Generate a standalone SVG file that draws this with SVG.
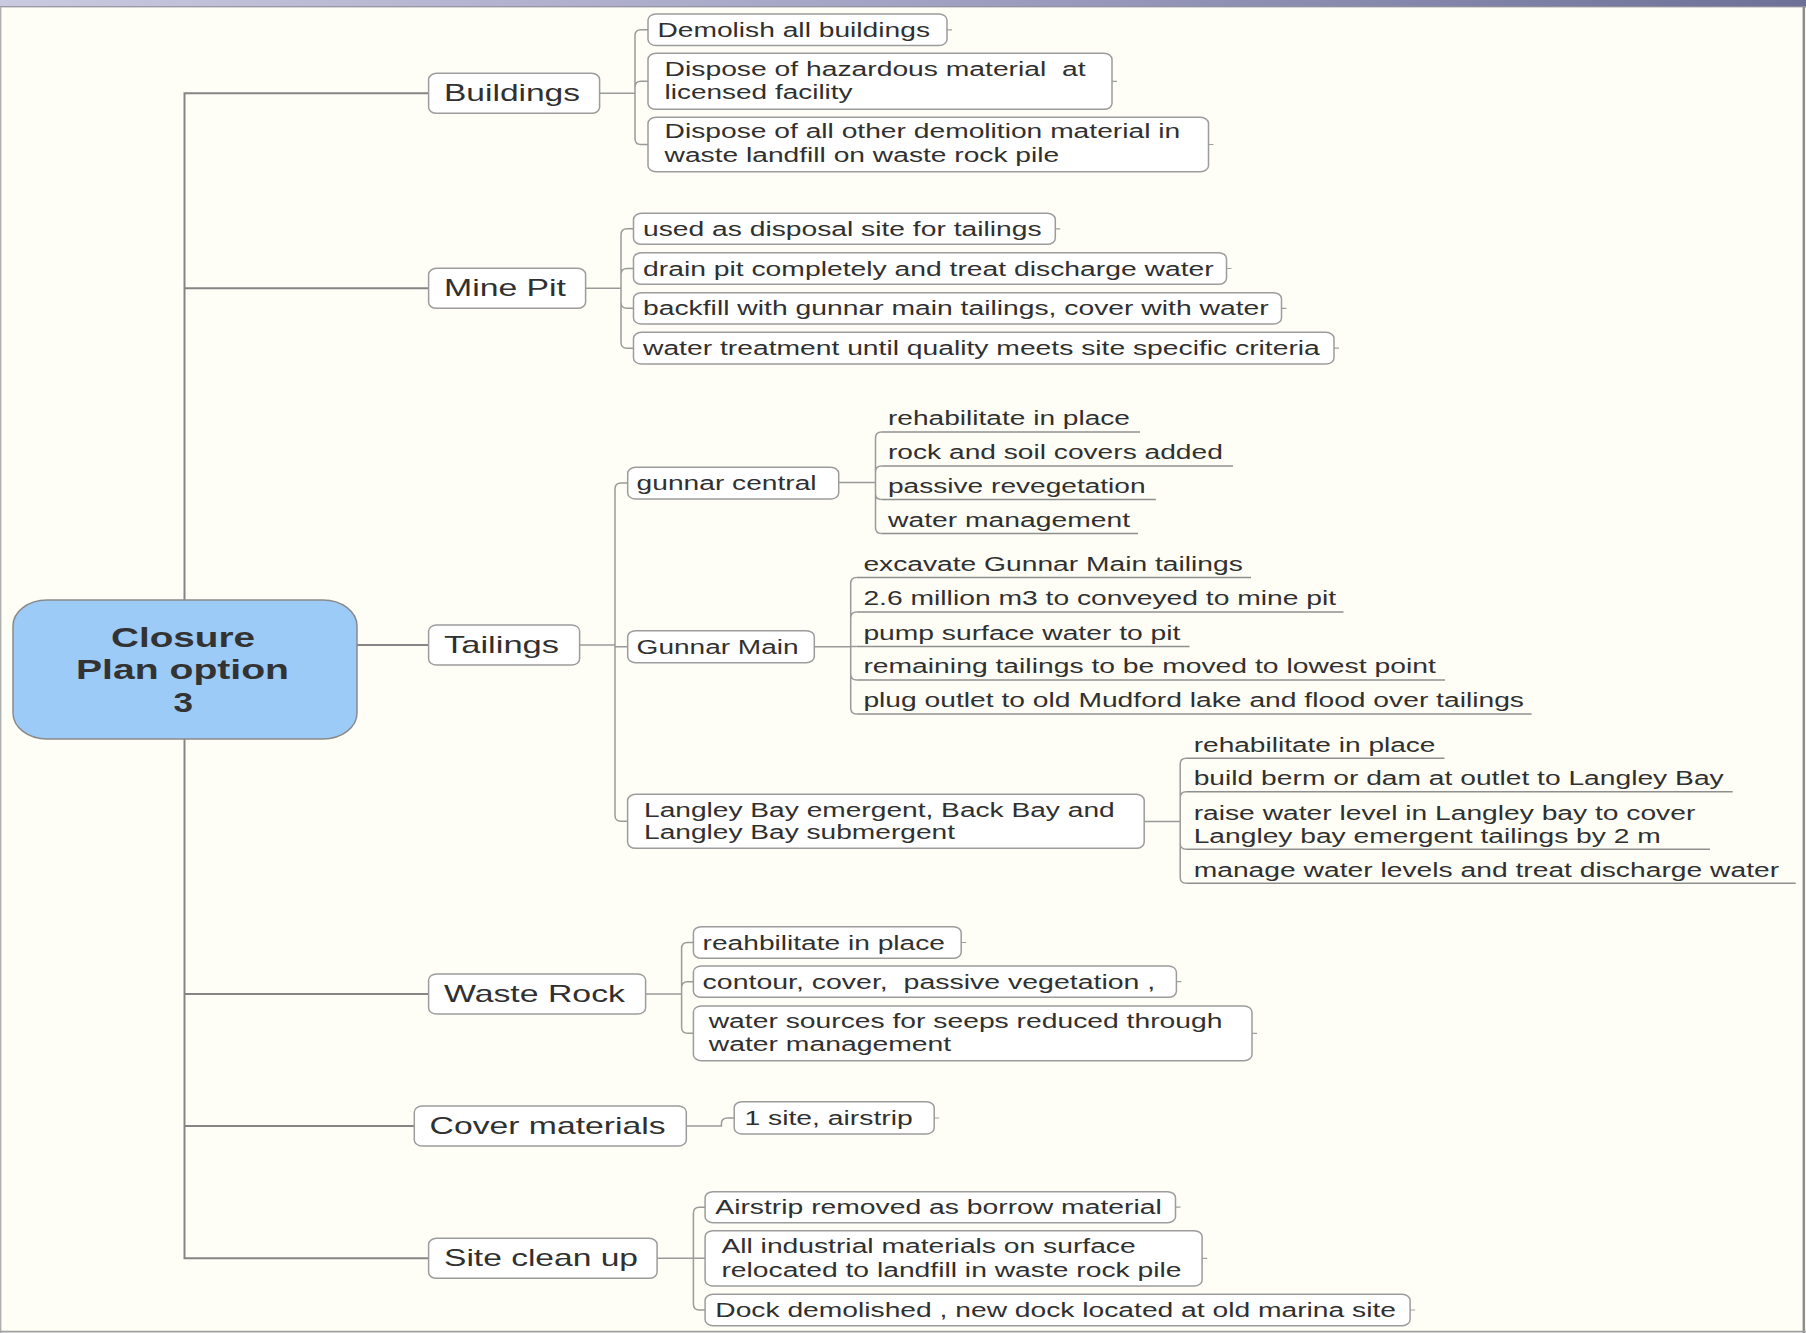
<svg xmlns="http://www.w3.org/2000/svg" width="1806" height="1333" viewBox="0 0 1806 1333">
<defs>
<linearGradient id="topbar" x1="0" y1="0" x2="1" y2="0">
<stop offset="0" stop-color="#c9c9df"/>
<stop offset="0.5" stop-color="#a2a2c4"/>
<stop offset="1" stop-color="#6d7197"/>
</linearGradient>
<style>
.bx{fill:#ffffff;stroke:#9c9c9c;stroke-width:1.5}
.root{fill:#9dcbf8;stroke:#8a8a8a;stroke-width:1.5}
.t{font-family:"Liberation Sans",Arial,sans-serif;font-size:20px;fill:#303030}
.t1{font-size:24px}
.rt{font-size:28px;font-weight:bold;fill:#333333}
.c{fill:none;stroke:#9a9a9a;stroke-width:1.5}
.c1{fill:none;stroke:#858585;stroke-width:2}
.ul{stroke:#8f8f8f;stroke-width:1.5}
.stub{stroke:#a0a0a0;stroke-width:1.2}
</style>
</defs>
<rect x="0" y="0" width="1806" height="1333" fill="#fefef6"/>
<rect x="0" y="0" width="1806" height="6.5" fill="url(#topbar)"/>
<line x1="0" y1="6.8" x2="1806" y2="6.8" stroke="#7a7a8a" stroke-width="1"/>
<line x1="0.7" y1="7" x2="0.7" y2="1333" stroke="#b0b0b0" stroke-width="1.4"/>
<line x1="1803.8" y1="7" x2="1803.8" y2="1333" stroke="#8c8c8c" stroke-width="2.4"/>
<line x1="0" y1="1331.6" x2="1806" y2="1331.6" stroke="#a0a0a0" stroke-width="1.6"/>

<g id="connectors">
<path class="c1" d="M428.6,93.3 H184.5 V1258.3 H428.6 M184.5,288.3 H428.6 M184.5,994 H428.6 M184.5,1126 H414.3 M357,645 H428.6"/>
<!-- Buildings -->
<path class="c" d="M599.6,93.3 H635 M635,93.3 V35.8 Q635,29.8 641,29.8 H648 M635,93.3 V87.3 Q635,81.3 641,81.3 H648 M635,93.3 V138.5 Q635,144.5 641,144.5 H648"/>
<!-- Mine Pit -->
<path class="c" d="M585.7,288.3 H621 M621,288.3 V234.8 Q621,228.8 627,228.8 H633.5 M621,288.3 V274.5 Q621,268.5 627,268.5 H633.5 M621,288.3 V302.3 Q621,308.3 627,308.3 H633.5 M621,288.3 V342.2 Q621,348.2 627,348.2 H633.5"/>
<!-- Tailings -->
<path class="c" d="M579.4,645 H615 M615,645 V489 Q615,483 621,483 H627.7 M615,645 V646.7 H627.7 M615,645 V815.3 Q615,821.3 621,821.3 H627.6"/>
<!-- gunnar central -->
<path class="c" d="M838.8,482.5 H875.5 M875.5,482.5 V438 Q875.5,432 881.5,432 M875.5,482.5 V472 Q875.5,466 881.5,466 M875.5,482.5 V493.5 Q875.5,499.5 881.5,499.5 M875.5,482.5 V527.5 Q875.5,533.5 881.5,533.5"/>
<!-- Gunnar Main -->
<path class="c" d="M814.3,646.7 H850.7 M850.7,646.7 V583.5 Q850.7,577.5 856.7,577.5 M850.7,646.7 V618 Q850.7,612 856.7,612 M850.7,646.7 V646.5 H856.7 M850.7,646.7 V674 Q850.7,680 856.7,680 M850.7,646.7 V708 Q850.7,714 856.7,714"/>
<!-- Langley -->
<path class="c" d="M1144.2,821.5 H1180.2 M1180.2,821.5 V764.3 Q1180.2,758.3 1186.2,758.3 M1180.2,821.5 V797.7 Q1180.2,791.7 1186.2,791.7 M1180.2,821.5 V843.3 Q1180.2,849.3 1186.2,849.3 M1180.2,821.5 V877.3 Q1180.2,883.3 1186.2,883.3"/>
<!-- Waste Rock -->
<path class="c" d="M645.4,994 H681.6 M681.6,994 V948.5 Q681.6,942.5 687.6,942.5 H693.4 M681.6,994 V987.7 Q681.6,981.7 687.6,981.7 H693.4 M681.6,994 V1027.3 Q681.6,1033.3 687.6,1033.3 H693.4"/>
<!-- Cover materials -->
<path class="c" d="M686.2,1126 H721.4 V1124 Q721.4,1118 727.4,1118 H734.2"/>
<!-- Site clean up -->
<path class="c" d="M657.1,1258.3 H693.4 M693.4,1258.3 V1213.2 Q693.4,1207.2 699.4,1207.2 H705.1 M693.4,1258.3 H705.1 M693.4,1258.3 V1304 Q693.4,1310 699.4,1310 H705.1"/>
<!-- collapse stubs -->
<path class="stub" d="M947,29.8 h5 M1112,81.3 h5 M1208.5,144.5 h5 M1055.3,228.8 h5 M1226.5,268.5 h5 M1281.5,308.3 h5 M1334,348.2 h5 M961.2,942.5 h5 M1176.4,981.7 h5 M1252,1033.3 h5 M934.2,1118 h5 M1175.5,1207.2 h5 M1202.1,1258.3 h5 M1410.1,1310 h5"/>
</g>

<g id="root">
<rect class="root" x="13" y="600" width="344" height="139" rx="34" ry="26"/>
<text class="t rt" x="111" y="647" textLength="144" lengthAdjust="spacingAndGlyphs">Closure</text>
<text class="t rt" x="76" y="679" textLength="213" lengthAdjust="spacingAndGlyphs">Plan option</text>
<text class="t rt" x="173.5" y="711.5" textLength="19.5" lengthAdjust="spacingAndGlyphs">3</text>
</g>

<g id="buildings">
<rect class="bx" x="428.6" y="73.3" width="171" height="40" rx="8" ry="6"/>
<text class="t t1" x="444" y="101.3" textLength="136" lengthAdjust="spacingAndGlyphs">Buildings</text>
</g>
<g id="demolish">
<rect class="bx" x="648" y="14" width="299" height="31.5" rx="8" ry="6"/>
<text class="t" x="657.4" y="36.8" textLength="272.6" lengthAdjust="spacingAndGlyphs">Demolish all buildings</text>
</g>
<g id="hazardous">
<rect class="bx" x="648" y="53.3" width="464" height="56" rx="8" ry="6"/>
<text class="t" x="664.6" y="76" textLength="421" lengthAdjust="spacingAndGlyphs" xml:space="preserve">Dispose of hazardous material  at</text>
<text class="t" x="664.6" y="99.3" textLength="188" lengthAdjust="spacingAndGlyphs">licensed facility</text>
</g>
<g id="other-demolition">
<rect class="bx" x="648" y="117.3" width="560.5" height="54.4" rx="8" ry="6"/>
<text class="t" x="664.6" y="138.3" textLength="515.6" lengthAdjust="spacingAndGlyphs">Dispose of all other demolition material in</text>
<text class="t" x="664.6" y="161.7" textLength="394.6" lengthAdjust="spacingAndGlyphs">waste landfill on waste rock pile</text>
</g>

<g id="mine-pit">
<rect class="bx" x="428.6" y="268.3" width="157" height="40" rx="8" ry="6"/>
<text class="t t1" x="444" y="296.3" textLength="122" lengthAdjust="spacingAndGlyphs">Mine Pit</text>
</g>
<g id="disposal-site">
<rect class="bx" x="633.5" y="213.3" width="421.8" height="31" rx="8" ry="6"/>
<text class="t" x="643" y="235.8" textLength="398.5" lengthAdjust="spacingAndGlyphs">used as disposal site for tailings</text>
</g>
<g id="drain-pit">
<rect class="bx" x="633.5" y="252.7" width="593" height="31.6" rx="8" ry="6"/>
<text class="t" x="643" y="275.5" textLength="570.7" lengthAdjust="spacingAndGlyphs">drain pit completely and treat discharge water</text>
</g>
<g id="backfill">
<rect class="bx" x="633.5" y="292.7" width="648" height="31.3" rx="8" ry="6"/>
<text class="t" x="643" y="315.3" textLength="625.7" lengthAdjust="spacingAndGlyphs">backfill with gunnar main tailings, cover with water</text>
</g>
<g id="water-treatment">
<rect class="bx" x="633.5" y="332.3" width="700.5" height="31.7" rx="8" ry="6"/>
<text class="t" x="643" y="355.1" textLength="676.8" lengthAdjust="spacingAndGlyphs">water treatment until quality meets site specific criteria</text>
</g>

<g id="tailings">
<rect class="bx" x="428.6" y="625" width="151" height="40" rx="8" ry="6"/>
<text class="t t1" x="444" y="653" textLength="115" lengthAdjust="spacingAndGlyphs">Tailings</text>
</g>
<g id="gunnar-central">
<rect class="bx" x="627.7" y="467.3" width="211" height="31.7" rx="8" ry="6"/>
<text class="t" x="636.6" y="490" textLength="180" lengthAdjust="spacingAndGlyphs">gunnar central</text>
</g>
<g id="gc-rehab">
<text class="t" x="888" y="425" textLength="242" lengthAdjust="spacingAndGlyphs">rehabilitate in place</text>
<line class="ul" x1="881.5" y1="432" x2="1140" y2="432"/>
</g>
<g id="gc-rock-soil">
<text class="t" x="888" y="459" textLength="334.8" lengthAdjust="spacingAndGlyphs">rock and soil covers added</text>
<line class="ul" x1="881.5" y1="466" x2="1233" y2="466"/>
</g>
<g id="gc-revegetation">
<text class="t" x="888" y="492.5" textLength="257.6" lengthAdjust="spacingAndGlyphs">passive revegetation</text>
<line class="ul" x1="881.5" y1="499.5" x2="1155.8" y2="499.5"/>
</g>
<g id="gc-water">
<text class="t" x="888" y="526.5" textLength="242" lengthAdjust="spacingAndGlyphs">water management</text>
<line class="ul" x1="881.5" y1="533.5" x2="1138" y2="533.5"/>
</g>

<g id="gunnar-main">
<rect class="bx" x="627.7" y="630.7" width="186.6" height="32" rx="8" ry="6"/>
<text class="t" x="636.6" y="653.7" textLength="162" lengthAdjust="spacingAndGlyphs">Gunnar Main</text>
</g>
<g id="gm-excavate">
<text class="t" x="863.4" y="570.5" textLength="379.4" lengthAdjust="spacingAndGlyphs">excavate Gunnar Main tailings</text>
<line class="ul" x1="856.7" y1="577.5" x2="1251" y2="577.5"/>
</g>
<g id="gm-convey">
<text class="t" x="863.4" y="605" textLength="472.8" lengthAdjust="spacingAndGlyphs">2.6 million m3 to conveyed to mine pit</text>
<line class="ul" x1="856.7" y1="612" x2="1343.5" y2="612"/>
</g>
<g id="gm-pump">
<text class="t" x="863.4" y="639.5" textLength="317" lengthAdjust="spacingAndGlyphs">pump surface water to pit</text>
<line class="ul" x1="856.7" y1="646.5" x2="1189.5" y2="646.5"/>
</g>
<g id="gm-remaining">
<text class="t" x="863.4" y="673" textLength="572.4" lengthAdjust="spacingAndGlyphs">remaining tailings to be moved to lowest point</text>
<line class="ul" x1="856.7" y1="680" x2="1445" y2="680"/>
</g>
<g id="gm-plug">
<text class="t" x="863.4" y="707" textLength="660.6" lengthAdjust="spacingAndGlyphs">plug outlet to old Mudford lake and flood over tailings</text>
<line class="ul" x1="856.7" y1="714" x2="1531.6" y2="714"/>
</g>

<g id="langley">
<rect class="bx" x="627.6" y="794.3" width="516.6" height="54" rx="8" ry="6"/>
<text class="t" x="644" y="816.7" textLength="470.7" lengthAdjust="spacingAndGlyphs">Langley Bay emergent, Back Bay and</text>
<text class="t" x="644" y="839.3" textLength="311" lengthAdjust="spacingAndGlyphs">Langley Bay submergent</text>
</g>
<g id="lb-rehab">
<text class="t" x="1193.7" y="751.5" textLength="241.8" lengthAdjust="spacingAndGlyphs">rehabilitate in place</text>
<line class="ul" x1="1186.2" y1="758.3" x2="1444.5" y2="758.3"/>
</g>
<g id="lb-berm">
<text class="t" x="1193.7" y="785" textLength="530" lengthAdjust="spacingAndGlyphs">build berm or dam at outlet to Langley Bay</text>
<line class="ul" x1="1186.2" y1="791.7" x2="1732.7" y2="791.7"/>
</g>
<g id="lb-raise">
<text class="t" x="1193.7" y="820" textLength="501.6" lengthAdjust="spacingAndGlyphs">raise water level in Langley bay to cover</text>
<text class="t" x="1193.7" y="843.3" textLength="467" lengthAdjust="spacingAndGlyphs">Langley bay emergent tailings by 2 m</text>
<line class="ul" x1="1186.2" y1="849.3" x2="1710" y2="849.3"/>
</g>
<g id="lb-manage">
<text class="t" x="1193.7" y="876.5" textLength="585.4" lengthAdjust="spacingAndGlyphs">manage water levels and treat discharge water</text>
<line class="ul" x1="1186.2" y1="883.3" x2="1795.7" y2="883.3"/>
</g>

<g id="waste-rock">
<rect class="bx" x="428.6" y="974" width="217" height="40" rx="8" ry="6"/>
<text class="t t1" x="444" y="1002" textLength="181" lengthAdjust="spacingAndGlyphs">Waste Rock</text>
</g>
<g id="wr-rehab">
<rect class="bx" x="693.4" y="926.7" width="267.8" height="31.6" rx="8" ry="6"/>
<text class="t" x="702.6" y="949.5" textLength="242.4" lengthAdjust="spacingAndGlyphs">reahbilitate in place</text>
</g>
<g id="wr-contour">
<rect class="bx" x="693.4" y="966" width="483" height="31.3" rx="8" ry="6"/>
<text class="t" x="702.6" y="988.7" textLength="452.6" lengthAdjust="spacingAndGlyphs" xml:space="preserve">contour, cover,  passive vegetation ,</text>
</g>
<g id="wr-water">
<rect class="bx" x="693.4" y="1006" width="558.6" height="54.7" rx="8" ry="6"/>
<text class="t" x="708.7" y="1027.5" textLength="513.8" lengthAdjust="spacingAndGlyphs">water sources for seeps reduced through</text>
<text class="t" x="708.7" y="1051" textLength="242.4" lengthAdjust="spacingAndGlyphs">water management</text>
</g>

<g id="cover-materials">
<rect class="bx" x="414.3" y="1106" width="272" height="40" rx="8" ry="6"/>
<text class="t t1" x="429.6" y="1134" textLength="236" lengthAdjust="spacingAndGlyphs">Cover materials</text>
</g>
<g id="cm-site">
<rect class="bx" x="734.2" y="1101.7" width="200" height="32.3" rx="8" ry="6"/>
<text class="t" x="744.4" y="1125" textLength="168.4" lengthAdjust="spacingAndGlyphs">1 site, airstrip</text>
</g>

<g id="site-clean-up">
<rect class="bx" x="428.6" y="1238.3" width="228.5" height="40" rx="8" ry="6"/>
<text class="t t1" x="444" y="1266.3" textLength="194" lengthAdjust="spacingAndGlyphs">Site clean up</text>
</g>
<g id="sc-airstrip">
<rect class="bx" x="705.1" y="1191.7" width="470.4" height="31" rx="8" ry="6"/>
<text class="t" x="715.3" y="1214.2" textLength="446.4" lengthAdjust="spacingAndGlyphs">Airstrip removed as borrow material</text>
</g>
<g id="sc-industrial">
<rect class="bx" x="705.1" y="1230.7" width="497" height="55.3" rx="8" ry="6"/>
<text class="t" x="721.4" y="1252.7" textLength="414.3" lengthAdjust="spacingAndGlyphs">All industrial materials on surface</text>
<text class="t" x="721.4" y="1276.7" textLength="460.2" lengthAdjust="spacingAndGlyphs">relocated to landfill in waste rock pile</text>
</g>
<g id="sc-dock">
<rect class="bx" x="705.1" y="1294.3" width="705" height="31.4" rx="8" ry="6"/>
<text class="t" x="715.3" y="1316.8" textLength="680.7" lengthAdjust="spacingAndGlyphs">Dock demolished , new dock located at old marina site</text>
</g>
</svg>
